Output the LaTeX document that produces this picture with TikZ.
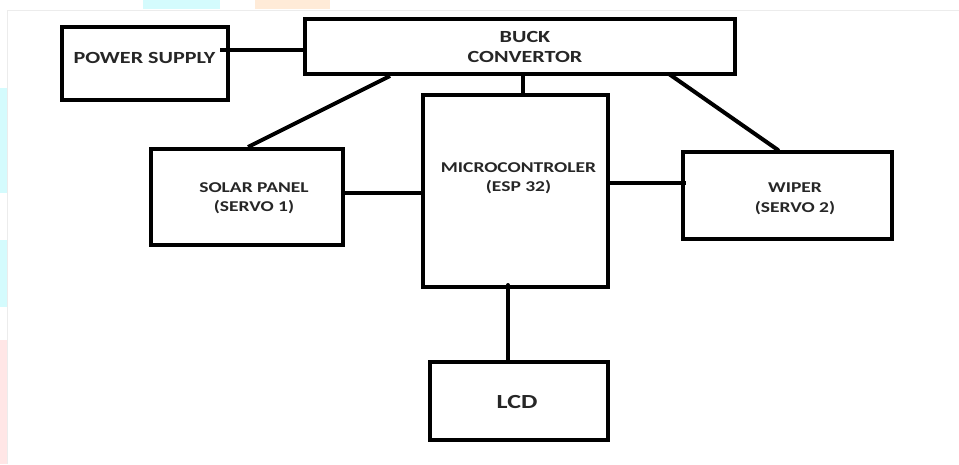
\documentclass[tikz,border=0pt]{standalone}
\usepackage{fontspec}
\setmainfont{Carlito}
\newfontfamily\lbl{Carlito}[FakeStretch=1.3]
\definecolor{wmcyan}{HTML}{D4FBFD}
\definecolor{wmpink}{HTML}{FFE6E6}
\definecolor{wmpeach}{HTML}{FFEBD8}
\definecolor{frame}{HTML}{ECECEC}
\definecolor{ink}{HTML}{262626}
\tikzset{
  blk/.style={draw=black, line width=4pt, inner sep=0pt, fill=white},
  wire/.style={draw=black, line width=4pt},
  txt/.style={font=\lbl\bfseries\fontsize{15}{19.5}\selectfont, text=ink, inner sep=0pt, align=center},
  bigtxt/.style={txt, font=\lbl\bfseries\fontsize{17}{20}\selectfont},
  lcdtxt/.style={txt, font=\lbl\bfseries\fontsize{20}{24}\selectfont}
}
\begin{document}
\begin{tikzpicture}[x=1pt,y=-1pt]
\useasboundingbox (0,0) rectangle (959,464);
% background and faint watermark
\fill[white] (0,0) rectangle (959,464);
\fill[wmcyan] (143,0) rectangle (220,9);
\fill[wmpeach] (255,0) rectangle (330,9);
\fill[wmcyan] (0,88) rectangle (7,193);
\fill[wmcyan] (0,240) rectangle (7,307);
\fill[wmpink] (0,340) rectangle (7,464);
\draw[frame, line width=1pt] (7,464) -- (7,10) -- (959,10);
% blocks
\node[blk, minimum width=166pt, minimum height=73pt] (ps) at (145,63.5) {};
\node[blk, minimum width=430pt, minimum height=55pt] (buck) at (520,46.5) {};
\node[blk, minimum width=185pt, minimum height=192pt] (mcu) at (515.5,191) {};
\node[blk, minimum width=192pt, minimum height=96pt] (solar) at (247,197) {};
\node[blk, minimum width=209pt, minimum height=87pt] (wiper) at (787.5,195.5) {};
\node[blk, minimum width=178pt, minimum height=78pt] (lcd) at (519,401) {};
% labels
\node[bigtxt] (tps) at (144.5,58) {POWER SUPPLY};
\node[bigtxt] (tbuck) at (525,47) {BUCK\\CONVERTOR};
\node[txt] (tmcu) at (518.5,178) {MICROCONTROLER\\(ESP 32)};
\node[txt] (tsolar) at (254,198) {SOLAR PANEL\\(SERVO 1)};
\node[txt] (twiper) at (795,199) {WIPER\\(SERVO 2)};
\node[lcdtxt] (tlcd) at (517,402) {LCD};
% connectors
\coordinate (psout) at (220,50);
\draw[wire] (psout) -- (psout -| buck.west);
\draw[wire] ([xshift=7.5pt]mcu.north) -- ([xshift=7.5pt]mcu.north |- buck.south);
\draw[wire] ([xshift=87pt]buck.south west) -- ([xshift=99pt]solar.north west);
\draw[wire, line cap=round] ([xshift=366pt,yshift=2pt]buck.south west) -- ([xshift=97pt]wiper.north west);
\draw[wire] ([yshift=4pt]solar.east) -- ([yshift=4pt]solar.east -| mcu.west);
\draw[wire] ([yshift=8pt]mcu.east) -- ([xshift=5pt,yshift=12.5pt]wiper.west);
\draw[wire, line cap=round] ([xshift=-11pt]lcd.north) -- ([xshift=-11pt,yshift=4pt]lcd.north |- mcu.south);
\end{tikzpicture}
\end{document}
